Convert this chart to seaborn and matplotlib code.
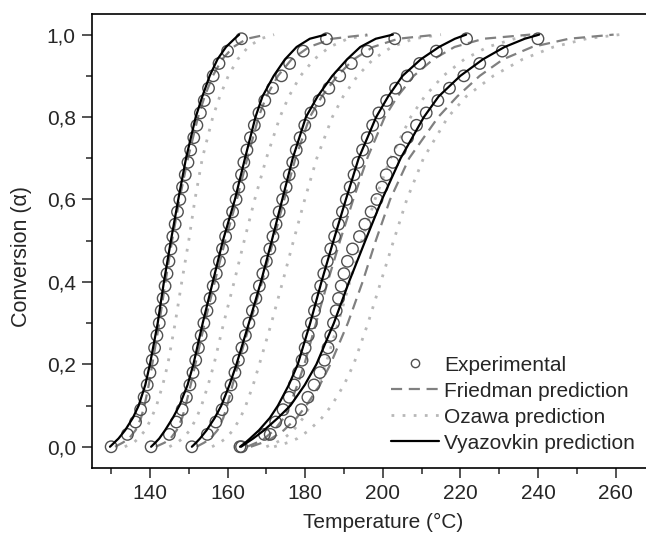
import pandas as pd
import seaborn as sns
import matplotlib.pyplot as plt
from matplotlib.ticker import MultipleLocator, FuncFormatter
from matplotlib.lines import Line2D

# conversion levels of the experimental points
alpha_exp = [0.00, 0.03, 0.06, 0.09, 0.12, 0.15, 0.18, 0.21, 0.24, 0.27, 0.30, 0.33,
             0.36, 0.39, 0.42, 0.45, 0.48, 0.51, 0.54, 0.57, 0.60, 0.63, 0.66, 0.69,
             0.72, 0.75, 0.78, 0.81, 0.84, 0.87, 0.90, 0.93, 0.96, 0.99]

# experimental temperatures (°C), one list per heating rate
exp_1 = [130.0, 134.2, 136.3, 137.6, 138.5, 139.3, 140.0, 140.6, 141.2, 141.8, 142.4, 142.9,
         143.4, 143.9, 144.4, 144.9, 145.4, 145.9, 146.5, 147.1, 147.7, 148.4, 149.1, 149.8,
         150.5, 151.3, 152.1, 153.0, 154.0, 155.1, 156.3, 157.8, 160.0, 163.6]
exp_2 = [140.3, 145.0, 146.8, 148.3, 149.4, 150.3, 151.1, 151.8, 152.5, 153.2, 153.9, 154.7,
         155.5, 156.3, 157.1, 157.9, 158.7, 159.5, 160.4, 161.3, 162.2, 162.9, 163.6, 164.2,
         165.0, 165.9, 166.9, 168.1, 169.6, 171.6, 173.9, 176.0, 179.5, 185.5]
exp_3 = [150.8, 154.8, 157.0, 158.6, 159.8, 160.9, 161.9, 162.8, 163.7, 164.6, 165.5, 166.4,
         167.3, 168.2, 169.1, 170.0, 170.9, 171.7, 172.5, 173.3, 174.2, 175.1, 175.9, 176.8,
         177.7, 178.7, 179.9, 181.5, 183.6, 186.1, 188.9, 191.9, 196.0, 203.1]
exp_4 = [163.2, 169.5, 172.4, 174.3, 175.9, 177.2, 178.3, 179.2, 180.0, 180.8, 181.6, 182.4,
         183.2, 184.0, 184.8, 185.7, 186.6, 187.6, 188.6, 189.6, 190.6, 191.6, 192.6, 193.6,
         194.8, 196.0, 197.4, 199.0, 201.0, 203.3, 206.3, 209.5, 213.8, 221.6]
exp_5 = [163.6, 171.0, 176.2, 179.0, 180.7, 182.3, 183.8, 185.0, 185.9, 186.6, 187.3, 188.0,
         188.6, 189.3, 190.0, 190.9, 192.2, 194.0, 195.4, 197.0, 198.5, 199.8, 200.9, 202.6,
         204.5, 206.4, 208.7, 211.2, 214.2, 217.2, 220.9, 225.0, 230.8, 240.0]

# conversion levels of the model predictions
alpha_fit = [0.00, 0.01, 0.02, 0.04, 0.07, 0.10, 0.15, 0.20, 0.30, 0.40,
             0.50, 0.60, 0.70, 0.80, 0.85, 0.90, 0.94, 0.97, 0.99, 1.00]

fried_1 = [131.0, 133.0, 134.6, 136.3, 137.7, 138.6, 139.7, 140.6, 142.4, 144.0,
           145.7, 147.6, 149.8, 152.4, 154.1, 156.2, 158.6, 161.5, 165.0, 170.0]
fried_2 = [141.5, 143.8, 145.3, 146.9, 148.3, 149.2, 150.5, 151.7, 154.1, 156.7,
           159.4, 162.4, 165.1, 168.0, 170.0, 173.0, 176.5, 181.0, 187.0, 196.0]
fried_3 = [152.0, 154.0, 155.6, 157.4, 158.9, 159.9, 161.3, 162.7, 165.8, 168.9,
           171.8, 174.6, 177.5, 181.2, 184.3, 188.3, 192.5, 197.5, 204.0, 214.0]
fried_4 = [165.0, 167.5, 169.5, 172.0, 174.5, 176.0, 178.0, 179.8, 182.8, 185.8,
           189.0, 192.4, 196.0, 200.5, 203.8, 208.0, 213.0, 218.5, 226.0, 238.0]
fried_5 = [166.0, 169.0, 171.3, 174.5, 177.8, 180.3, 183.8, 186.5, 191.0, 194.8,
           198.2, 201.9, 206.8, 214.3, 219.2, 225.0, 231.0, 238.5, 248.0, 259.5]

ozawa_1 = [133.5, 135.8, 137.0, 138.8, 140.4, 141.7, 143.3, 144.6, 146.5, 148.2,
           150.0, 151.6, 153.5, 156.2, 158.0, 160.2, 162.6, 165.3, 168.5, 172.0]
ozawa_2 = [145.0, 147.0, 148.4, 150.3, 152.0, 153.3, 155.0, 156.5, 159.0, 161.7,
           164.3, 167.0, 170.0, 173.5, 175.8, 178.8, 182.3, 186.3, 191.0, 197.0]
ozawa_3 = [156.0, 158.0, 159.5, 161.4, 163.3, 164.7, 166.6, 168.2, 171.3, 174.2,
           177.0, 179.9, 183.0, 187.0, 189.8, 193.5, 197.5, 202.3, 208.0, 215.0]
ozawa_4 = [170.0, 172.5, 174.5, 177.0, 179.5, 181.3, 183.5, 185.3, 188.5, 191.5,
           194.6, 198.0, 202.0, 207.2, 210.8, 215.6, 221.0, 227.0, 234.0, 240.0]
ozawa_5 = [172.0, 175.5, 178.0, 181.0, 184.3, 186.8, 190.0, 192.5, 196.2, 199.5,
           202.8, 206.2, 210.5, 216.8, 221.5, 228.5, 236.0, 244.0, 252.5, 261.0]

vyaz_1 = [129.7, 130.8, 131.9, 133.6, 135.6, 137.1, 138.8, 140.0, 142.0, 143.6,
          145.4, 147.3, 149.3, 151.8, 153.5, 155.4, 157.4, 159.6, 161.8, 163.0]
vyaz_2 = [140.3, 141.4, 142.4, 143.9, 145.9, 147.6, 149.7, 151.2, 153.6, 156.2,
          158.8, 161.9, 164.5, 167.2, 169.0, 171.9, 174.8, 177.8, 181.2, 185.3]
vyaz_3 = [150.8, 151.9, 152.9, 154.6, 156.7, 158.4, 160.5, 162.3, 165.5, 168.6,
          171.4, 174.1, 176.8, 180.2, 183.2, 187.0, 190.8, 194.2, 198.2, 202.6]
vyaz_4 = [163.2, 164.6, 165.8, 168.1, 170.9, 173.0, 175.8, 178.1, 181.3, 184.2,
          187.3, 190.5, 193.8, 198.3, 201.4, 205.1, 209.8, 214.5, 218.6, 221.5]
vyaz_5 = [163.5, 165.0, 166.6, 169.4, 173.0, 176.2, 179.9, 182.9, 187.4, 191.3,
          195.5, 199.8, 204.6, 210.6, 214.4, 220.0, 225.8, 231.4, 236.6, 240.3]


def long_df(curves, alphas):
    frames = []
    for i, temps in enumerate(curves):
        frames.append(pd.DataFrame({"T": temps, "alpha": alphas, "run": i}))
    return pd.concat(frames, ignore_index=True)


exp_df = long_df([exp_1, exp_2, exp_3, exp_4, exp_5], alpha_exp)
fried_df = long_df([fried_1, fried_2, fried_3, fried_4, fried_5], alpha_fit)
ozawa_df = long_df([ozawa_1, ozawa_2, ozawa_3, ozawa_4, ozawa_5], alpha_fit)
vyaz_df = long_df([vyaz_1, vyaz_2, vyaz_3, vyaz_4, vyaz_5], alpha_fit)

sns.set_style("ticks")
plt.rcParams['font.family'] = ['Liberation Sans', 'DejaVu Sans']
fs = 15

fig = plt.figure(figsize=(6.46, 5.39), dpi=100)
ax = fig.add_axes([0.142, 0.131, 0.901, 0.843])

oz_style = dict(color="#b8b8b8", lw=2.0, linestyle=(0, (1, 3)))
fr_style = dict(color="#808080", lw=1.6, linestyle=(0, (5, 3)))
vy_style = dict(color="black", lw=1.6, linestyle="-")

sns.lineplot(data=ozawa_df, x="T", y="alpha", units="run", estimator=None, sort=False,
             ax=ax, **oz_style)
sns.lineplot(data=fried_df, x="T", y="alpha", units="run", estimator=None, sort=False,
             ax=ax, **fr_style)
sns.scatterplot(data=exp_df, x="T", y="alpha", marker="o", s=68, ax=ax, zorder=3)
pts = ax.collections[-1]
pts.set_facecolor("none")
pts.set_edgecolor("#505050")
pts.set_linewidth(1.0)
sns.lineplot(data=vyaz_df, x="T", y="alpha", units="run", estimator=None, sort=False,
             ax=ax, zorder=4, **vy_style)

ax.set_xlim(125, 275)
ax.set_ylim(-0.0525, 1.05)
ax.xaxis.set_major_locator(MultipleLocator(20))
ax.xaxis.set_minor_locator(MultipleLocator(10))
ax.yaxis.set_major_locator(MultipleLocator(0.2))
ax.yaxis.set_minor_locator(MultipleLocator(0.1))
ax.yaxis.set_major_formatter(FuncFormatter(lambda v, _: f"{v:.1f}".replace(".", ",")))
ax.tick_params(which="major", direction="out", length=7, width=1.1, pad=4.5, labelsize=fs)
ax.tick_params(which="minor", direction="out", length=4, width=1.1)
ax.tick_params(top=False, right=False, which="both")
for side in ["left", "bottom", "top"]:
    ax.spines[side].set_linewidth(1.2)
    ax.spines[side].set_color("black")
ax.spines["right"].set_visible(False)

ax.set_xlabel("Temperature (°C)", fontsize=15)
ax.set_ylabel("Conversion (α)", fontsize=15.5)
ax.xaxis.set_label_coords(0.5, -0.097)
ax.yaxis.set_label_coords(-0.103, 0.467)

handles = [
    Line2D([], [], marker="o", ls="none", mfc="none", mec="#505050", ms=6, mew=1.0),
    Line2D([], [], **fr_style),
    Line2D([], [], **oz_style),
    Line2D([], [], **vy_style),
]
labels = ["Experimental", "Friedman prediction", "Ozawa prediction", "Vyazovkin prediction"]
ax.legend(handles, labels, loc="lower right", bbox_to_anchor=(0.948, 0.016), frameon=False,
          fontsize=fs, handlelength=2.3, handletextpad=0.25, labelspacing=0.34,
          borderaxespad=0)

fig.savefig("out.png", dpi=100)
